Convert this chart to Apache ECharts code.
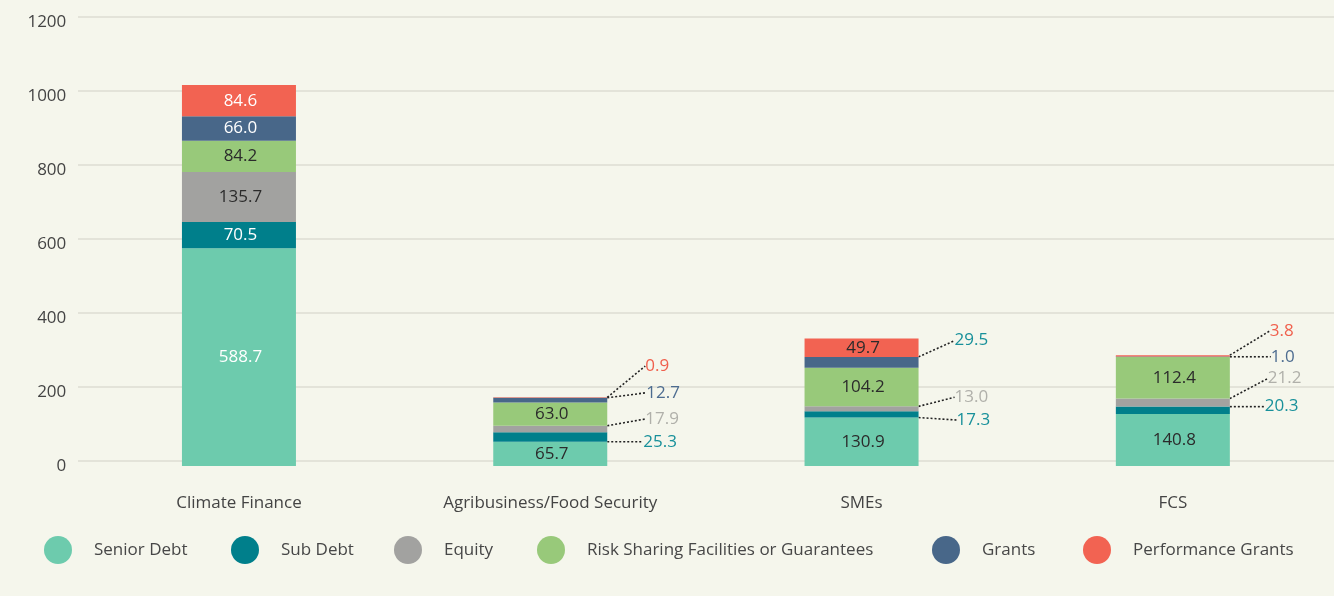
<!DOCTYPE html>
<html>
<head>
<meta charset="utf-8">
<script src="https://cdn.jsdelivr.net/npm/echarts@6/dist/echarts.min.js"></script>
<style>
  html, body { margin: 0; padding: 0; background: #f5f6ec; }
  #chart { width: 1334px; height: 596px; }
</style>
</head>
<body>
<div id="chart"></div>
<script>
  // categories and series values
  var categories = ['Climate Finance', 'Agribusiness/Food Security', 'SMEs', 'FCS']
  var seniorDebt = [588.7, 65.7, 130.9, 140.8]
  var subDebt = [70.5, 25.3, 17.3, 20.3]
  var equity = [135.7, 17.9, 13.0, 21.2]
  var riskSharing = [84.2, 63.0, 104.2, 112.4]
  var grants = [66.0, 12.7, 29.5, 1.0]
  var performanceGrants = [84.6, 0.9, 49.7, 3.8]
  var yMin = 0
  var yMax = 1200
  var yStep = 200

  var seriesNames = ['Senior Debt', 'Sub Debt', 'Equity', 'Risk Sharing Facilities or Guarantees', 'Grants', 'Performance Grants']
  var seriesValues = [seniorDebt, subDebt, equity, riskSharing, grants, performanceGrants]
  var seriesColors = ['#6dcbad', '#007f8b', '#a2a2a0', '#98c97a', '#486789', '#f26352']

  // label look per series / category: 'w' white inside, 'd' dark inside, 'o' callout
  var labelKinds = [
    ['w', 'd', 'd', 'd'],
    ['w', 'o', 'o', 'o'],
    ['d', 'o', 'o', 'o'],
    ['d', 'd', 'd', 'd'],
    ['w', 'o', 'o', 'o'],
    ['w', 'o', 'd', 'o']
  ]
  // callout offset from bar right edge / segment middle, and text colour
  var callouts = [
    [null, null, null, null],
    [null, [36, 4.7, '#17909a'], [38, 5.6, '#17909a'], [35, -3.5, '#17909a']],
    [null, [38, -10, '#b0b0aa'], [36, -11.5, '#b0b0aa'], [38, -24, '#b0b0aa']],
    [null, null, null, null],
    [null, [39, -7.3, '#4d6c90'], [36, -21.7, '#17909a'], [41, 0, '#4d6c90']],
    [null, [38, -31.5, '#f0604d'], null, [40, -25, '#f0604d']]
  ]
  // legend item left edges
  var legendLefts = [44, 231, 394, 537, 932, 1083]

  var font = '"Open Sans", "Noto Sans", sans-serif'

  function buildData (s) {
    return seriesValues[s].map(function (v, c) {
      var kind = labelKinds[s][c]
      if (kind === 'o') {
        return {
          value: v,
          label: { color: callouts[s][c][2], position: 'right' },
          labelLine: {
            show: true,
            lineStyle: { color: '#222', width: 1.6, type: [2, 2] }
          }
        }
      }
      return {
        value: v,
        label: { color: kind === 'w' ? '#ffffff' : '#2b2b2b' }
      }
    })
  }

  function calloutLayout (s) {
    return function (params) {
      var off = callouts[s][params.dataIndex]
      if (!off) return {}
      return {
        x: params.rect.x + params.rect.width + off[0] - 3,
        y: params.rect.y + params.rect.height / 2 + off[1],
        align: 'left',
        verticalAlign: 'middle'
      }
    }
  }

  var series = seriesNames.map(function (name, s) {
    return {
      name: name,
      type: 'bar',
      stack: 'total',
      barWidth: 114,
      xAxisIndex: 0,
      yAxisIndex: 0,
      itemStyle: { color: seriesColors[s] },
      label: {
        show: true,
        position: 'inside',
        fontFamily: font,
        fontSize: 17,
        padding: [0, 0, 0, 3],
        formatter: function (p) { return Number(p.value).toFixed(1) }
      },
      labelLine: { show: false },
      labelLayout: calloutLayout(s),
      data: buildData(s)
    }
  })

  var legends = seriesNames.map(function (name, s) {
    return {
      data: [name],
      left: legendLefts[s],
      top: 536,
      padding: 0,
      icon: 'circle',
      itemWidth: 28,
      itemHeight: 28,
      selectedMode: false,
      textStyle: {
        fontFamily: font,
        fontSize: 17,
        color: '#474747',
        padding: [0, 0, 0, 17]
      }
    }
  })

  var chart = echarts.init(document.getElementById('chart'))
  chart.setOption({
    animation: false,
    backgroundColor: '#f5f6ec',
    legend: legends,
    grid: [
      // bars
      { left: 83.3, right: 5.5, top: 22, bottom: 130 },
      // gridlines sit a few pixels above the bar baseline
      { left: 78, right: 0, top: 17, bottom: 135 }
    ],
    xAxis: [
      {
        type: 'category',
        gridIndex: 0,
        data: categories,
        axisLine: { show: false },
        axisTick: { show: false },
        axisLabel: { fontFamily: font, fontSize: 17, color: '#444', margin: 29 }
      },
      { type: 'value', gridIndex: 1, show: false }
    ],
    yAxis: [
      {
        type: 'value',
        gridIndex: 0,
        min: yMin,
        max: yMax,
        interval: yStep,
        axisLine: { show: false },
        axisTick: { show: false },
        splitLine: { show: false },
        axisLabel: {
          fontFamily: font,
          fontSize: 17,
          color: '#444',
          margin: 17,
          formatter: function (v) { return String(v) }
        }
      },
      {
        type: 'value',
        gridIndex: 1,
        min: yMin,
        max: yMax,
        interval: yStep,
        axisLine: { show: false },
        axisTick: { show: false },
        axisLabel: { show: false },
        splitLine: { lineStyle: { color: '#dcdcd3', width: 1.5 } }
      }
    ],
    series: series
  })
</script>
</body>
</html>
